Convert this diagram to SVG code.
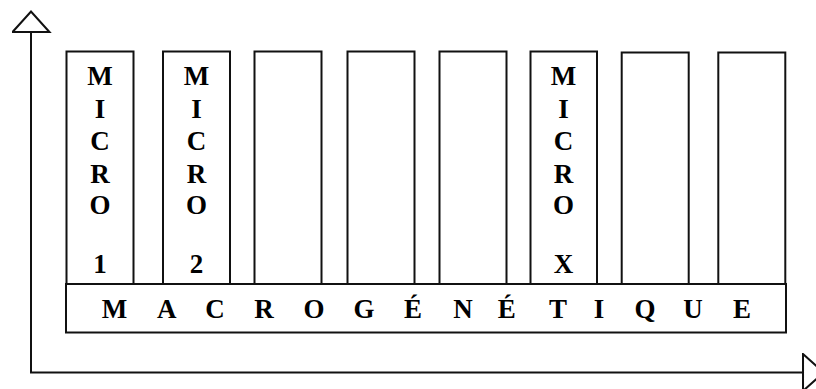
<svg xmlns="http://www.w3.org/2000/svg" width="816" height="389" viewBox="0 0 816 389">
<style>
.box{fill:#fff;stroke:#111;stroke-width:2}
.axis{fill:none;stroke:#111;stroke-width:2}
.lbl{font-family:"Liberation Serif","Times New Roman",serif;font-weight:bold;font-size:27px;fill:#000;text-anchor:middle}
</style>
<defs>
<marker id="tri" markerUnits="userSpaceOnUse" markerWidth="24" markerHeight="40" viewBox="-1 -1 23 39" refX="0" refY="18" orient="auto">
<path d="M0,0 L20,18 L0,36 Z" fill="#fff" stroke="#111" stroke-width="2"/>
</marker>
</defs>
<g id="connectors">
<line class="axis" x1="31" y1="372.5" x2="31" y2="32" marker-end="url(#tri)"/>
<line class="axis" x1="30" y1="372.5" x2="803" y2="372.5" marker-end="url(#tri)"/>
</g>
<g id="micro1">
<rect class="box" x="66.5" y="51.5" width="67" height="232.5"/>
<text class="lbl"><tspan x="100" y="85">M</tspan><tspan x="100" y="117.5">I</tspan><tspan x="100" y="150">C</tspan><tspan x="100" y="182.5">R</tspan><tspan x="100" y="214">O</tspan><tspan x="100" y="273">1</tspan></text>
</g>
<g id="micro2">
<rect class="box" x="163" y="51.5" width="67" height="232.5"/>
<text class="lbl"><tspan x="196.5" y="85">M</tspan><tspan x="196.5" y="117.5">I</tspan><tspan x="196.5" y="150">C</tspan><tspan x="196.5" y="182.5">R</tspan><tspan x="196.5" y="214">O</tspan><tspan x="196.5" y="273">2</tspan></text>
</g>
<g id="box3"><rect class="box" x="254.5" y="51.5" width="67" height="232.5"/></g>
<g id="box4"><rect class="box" x="347.5" y="51.5" width="67" height="232.5"/></g>
<g id="box5"><rect class="box" x="439.5" y="51.5" width="67" height="232.5"/></g>
<g id="microX">
<rect class="box" x="530.5" y="51.5" width="66.5" height="232.5"/>
<text class="lbl"><tspan x="563.5" y="85">M</tspan><tspan x="563.5" y="117.5">I</tspan><tspan x="563.5" y="150">C</tspan><tspan x="563.5" y="182.5">R</tspan><tspan x="563.5" y="214">O</tspan><tspan x="563.5" y="273">X</tspan></text>
</g>
<g id="box7"><rect class="box" x="621.7" y="52.5" width="67" height="231.5"/></g>
<g id="box8"><rect class="box" x="718.3" y="52.5" width="67" height="231.5"/></g>
<g id="macro">
<rect class="box" x="66" y="284" width="720" height="48.5"/>
<text class="lbl" y="318" x="114.5 166.7 215 264 314 364 413 463 506.7 558 599 645 693 742">MACROGÉNÉTIQUE</text>
</g>
</svg>
